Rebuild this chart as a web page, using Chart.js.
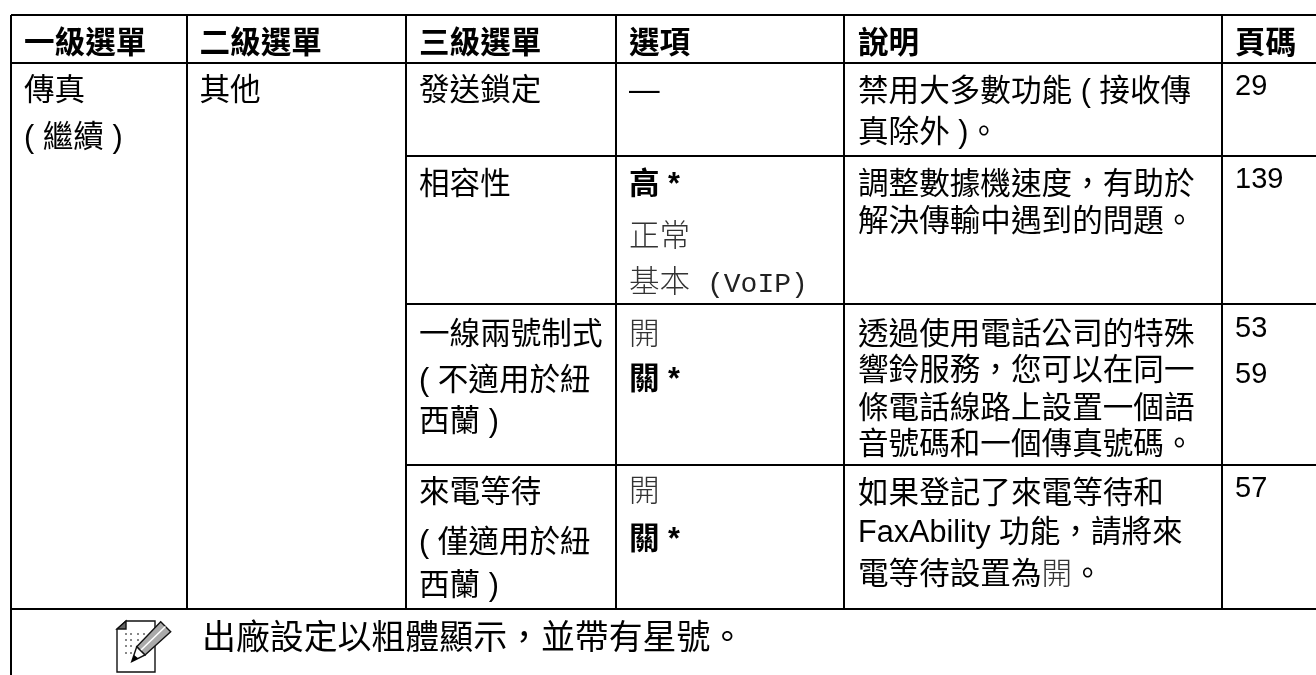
<!DOCTYPE html>
<html>
<head>
<meta charset="utf-8">
<style>
  html, body { margin: 0; padding: 0; background: #fff; overflow: hidden; }
  canvas { display: block; }
</style>
<script src="https://cdn.jsdelivr.net/npm/chart.js@4"></script>
</head>
<body>
<canvas id="chart" width="1316" height="675"></canvas>
<script>
// table contents
const headers = ['一級選單', '二級選單', '三級選單', '選項', '說明', '頁碼'];
const menu1 = ['傳真', '( 繼續 )'];
const menu2 = ['其他'];
const menu3 = ['發送鎖定', '相容性', '一線兩號制式', '( 不適用於紐', '西蘭 )', '來電等待', '( 僅適用於紐', '西蘭 )'];
const options = ['—', '高 *', '正常', '基本 (VoIP)', '開', '關 *', '開', '關 *'];
const descriptions = [
  '禁用大多數功能 ( 接收傳', '真除外 )。',
  '調整數據機速度，有助於', '解決傳輸中遇到的問題。',
  '透過使用電話公司的特殊', '響鈴服務，您可以在同一', '條電話線路上設置一個語', '音號碼和一個傳真號碼。',
  '如果登記了來電等待和', 'FaxAbility 功能，請將來', '電等待設置為開。'
];
const pages = ['29', '139', '53', '59', '57'];
const note = '出廠設定以粗體顯示，並帶有星號。';

// words that the manual sets in another face
const lightWords = ['正常', '基本', '開'];
const boldWords = ['高 *', '關 *'];
const monoWords = [' (VoIP)'];

// layout, in scale units
const columnEdges = [11, 187, 406, 616, 844, 1222];
const tableTop = 15, headerBottom = 63, tableBottom = 609, pageBottom = 675, pageRight = 1316;
const rowEdges = [156, 304, 465];
const textX = [24, 199.5, 419, 629, 858, 1235];
const noteX = 202, noteBaseline = 649;
const headerBaseline = 52.5;
const menu1Baselines = [100, 147];
const menu2Baselines = [100];
const menu3Baselines = [100, 194, 344, 389.5, 431, 502, 552, 595];
const optionBaselines = [100, 194, 246, 292, 344, 389, 501, 549];
const descriptionBaselines = [100.5, 142, 194, 231, 344, 379.5, 417.5, 454, 502.5, 542, 584];
const pageBaselines = [95, 188, 337, 383, 497];

const SANS = '"Liberation Sans", "Noto Sans CJK TC", sans-serif';
const MONO = '"Liberation Mono", "Noto Sans CJK TC", monospace';

function rule(x1, y1, x2, y2) {
  return {
    data: [{ x: x1, y: y1 }, { x: x2, y: y2 }],
    showLine: true,
    borderColor: '#000',
    borderWidth: 2,
    pointRadius: 0
  };
}

const rules = [
  rule(columnEdges[0], tableTop, columnEdges[0], pageBottom),
  rule(columnEdges[0], tableTop, pageRight, tableTop),
  rule(columnEdges[0], headerBottom, pageRight, headerBottom),
  rule(columnEdges[0], tableBottom, pageRight, tableBottom)
];
columnEdges.slice(1).forEach(x => rules.push(rule(x, tableTop, x, tableBottom)));
rowEdges.forEach(y => rules.push(rule(columnEdges[2], y, pageRight, y)));

function splitRuns(line) {
  const special = [...boldWords, ...monoWords, ...lightWords];
  const pattern = new RegExp('(' + special.map(w => w.replace(/[()*]/g, '\\$&')).join('|') + ')');
  return line.split(pattern).filter(s => s !== '');
}

function runFont(run) {
  if (boldWords.includes(run)) return { font: 'bold 30.6px ' + SANS, color: '#000' };
  if (monoWords.includes(run)) return { font: '28px ' + MONO, color: '#222' };
  if (lightWords.includes(run)) return { font: '300 30.6px ' + SANS, color: '#333' };
  return { font: '30.6px ' + SANS, color: '#000' };
}

function drawLine(ctx, chart, line, x, y) {
  let px = chart.scales.x.getPixelForValue(x);
  const py = chart.scales.y.getPixelForValue(y);
  splitRuns(line).forEach(run => {
    const style = runFont(run);
    ctx.font = style.font;
    ctx.fillStyle = style.color;
    ctx.fillText(run, px, py);
    px += ctx.measureText(run).width;
  });
}

function poly(ctx, pts) {
  ctx.beginPath();
  pts.forEach((p, i) => (i ? ctx.lineTo(p[0], p[1]) : ctx.moveTo(p[0], p[1])));
  ctx.closePath();
}

function drawNoteIcon(ctx) {
  // pencil-on-paper symbol next to the note
  ctx.save();
  ctx.translate(117, 621);
  ctx.lineWidth = 1.4;
  ctx.strokeStyle = '#111';
  ctx.fillStyle = '#fff';
  poly(ctx, [[9, 0], [38, 0], [38, 51], [0, 51], [0, 8]]);
  ctx.fill(); ctx.stroke();
  ctx.fillStyle = '#666';
  poly(ctx, [[9, 0], [9, 8], [0, 8]]);
  ctx.fill(); ctx.stroke();
  ctx.fillStyle = '#888';
  [[8, 12], [13, 12], [20, 12], [26, 12], [8, 18], [13, 18], [20, 18], [8, 24], [13, 24], [8, 31], [13, 31]].forEach(d => {
    ctx.fillRect(d[0], d[1], 2, 2);
  });
  // pencil body
  ctx.fillStyle = '#fff';
  poly(ctx, [[43.7, 0.7], [53.7, 10.7], [28, 34], [14.7, 40.7], [19.7, 25.7]]);
  ctx.fill();
  ctx.fillStyle = '#aaa';
  poly(ctx, [[43.7, 0.7], [53.7, 10.7], [28, 34], [19.7, 25.7]]);
  ctx.fill(); ctx.stroke();
  ctx.strokeStyle = '#fff';
  ctx.lineWidth = 1.6;
  ctx.beginPath();
  ctx.moveTo(23.5, 29.5); ctx.lineTo(48.5, 5.5);
  ctx.stroke();
  ctx.strokeStyle = '#111';
  ctx.lineWidth = 1.4;
  // tip
  ctx.fillStyle = '#fff';
  poly(ctx, [[19.7, 25.7], [28, 34], [14.7, 40.7]]);
  ctx.fill(); ctx.stroke();
  ctx.fillStyle = '#000';
  poly(ctx, [[17, 34], [21.5, 37.5], [14.7, 40.7]]);
  ctx.fill();
  ctx.restore();
}

const tableText = {
  id: 'tableText',
  afterDraw(chart) {
    const ctx = chart.ctx;
    ctx.save();
    ctx.textBaseline = 'alphabetic';
    ctx.textAlign = 'left';
    headers.forEach((h, i) => {
      ctx.font = 'bold 30.6px ' + SANS;
      ctx.fillStyle = '#000';
      ctx.fillText(h, chart.scales.x.getPixelForValue(textX[i]), chart.scales.y.getPixelForValue(headerBaseline));
    });
    const columns = [
      [menu1, menu1Baselines], [menu2, menu2Baselines], [menu3, menu3Baselines],
      [options, optionBaselines], [descriptions, descriptionBaselines]
    ];
    columns.forEach((col, c) => {
      col[0].forEach((line, i) => drawLine(ctx, chart, line, textX[c], col[1][i]));
    });
    ctx.font = '29px ' + SANS;
    ctx.fillStyle = '#000';
    pages.forEach((p, i) => {
      ctx.fillText(p, chart.scales.x.getPixelForValue(textX[5]), chart.scales.y.getPixelForValue(pageBaselines[i]));
    });
    ctx.font = '33.9px ' + SANS;
    ctx.fillText(note, chart.scales.x.getPixelForValue(noteX), chart.scales.y.getPixelForValue(noteBaseline));
    drawNoteIcon(ctx);
    ctx.restore();
  }
};

new Chart(document.getElementById('chart'), {
  type: 'scatter',
  data: { datasets: rules },
  plugins: [tableText],
  options: {
    responsive: false,
    animation: false,
    layout: { padding: 0 },
    plugins: { legend: { display: false }, tooltip: { enabled: false } },
    scales: {
      x: { type: 'linear', min: 0, max: pageRight, display: false },
      y: { type: 'linear', min: 0, max: pageBottom, reverse: true, display: false }
    }
  }
});
</script>
</body>
</html>
